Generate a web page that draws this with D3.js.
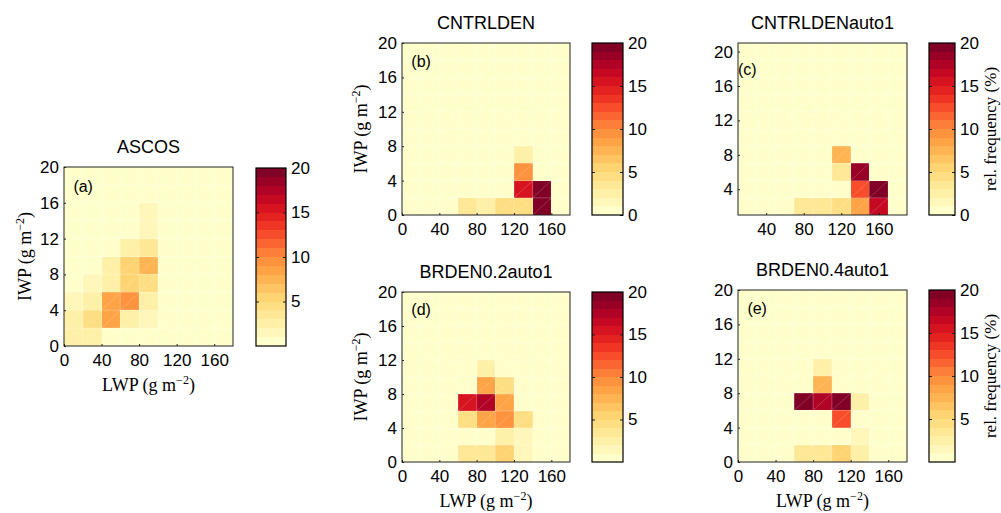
<!DOCTYPE html>
<html>
<head>
<meta charset="utf-8">
<script src="https://cdn.jsdelivr.net/npm/d3@7"></script>
<style>
  body { margin: 0; background: #fff; }
  svg { display: block; }
  .tick text { font-family: "Liberation Sans", Arial, sans-serif; font-size: 17px; fill: #000; }
  .tick line { stroke: #222; }
</style>
</head>
<body>
<div id="chart-area"></div>
<script>
// bin lower edges
const lwpBins = [0, 20, 40, 60, 80, 100, 120, 140, 160]   // g m-2
const iwpBins = [0, 2, 4, 6, 8, 10, 12, 14, 16, 18]       // g m-2

// rel. frequency (%) - rows are IWP bins (bottom to top), columns LWP bins
const ascos = [
  [2, 2, 0.5, 0.5, 0.5, 0.5, 0.5, 0.5, 0.5],
  [2, 4.5, 8.5, 2, 1, 0.5, 0.5, 0.5, 0.5],
  [1, 2, 8.5, 9, 2.5, 0.5, 0.5, 0.5, 0.5],
  [0.5, 1, 2.5, 5.5, 4.5, 0.5, 0.5, 0.5, 0.5],
  [0.5, 0.5, 2, 5, 7, 0.5, 0.5, 0.5, 0.5],
  [0.5, 0.5, 0.5, 2, 3, 0.5, 0.5, 0.5, 0.5],
  [0.5, 0.5, 0.5, 0.5, 1.5, 0.5, 0.5, 0.5, 0.5],
  [0.5, 0.5, 0.5, 0.5, 1.5, 0.5, 0.5, 0.5, 0.5],
  [0.5, 0.5, 0.5, 0.5, 0.5, 0.5, 0.5, 0.5, 0.5],
  [0.5, 0.5, 0.5, 0.5, 0.5, 0.5, 0.5, 0.5, 0.5]
]

const cntrlden = [
  [0, 0, 0, 3.5, 2.5, 4.5, 4.5, 20, 0],
  [0, 0, 0, 0, 0, 0, 15.5, 20, 0],
  [0, 0, 0, 0, 0, 0, 9, 0, 0],
  [0, 0, 0, 0, 0, 0, 2, 0, 0],
  [0, 0, 0, 0, 0, 0, 0, 0, 0],
  [0, 0, 0, 0, 0, 0, 0, 0, 0],
  [0, 0, 0, 0, 0, 0, 0, 0, 0],
  [0, 0, 0, 0, 0, 0, 0, 0, 0],
  [0, 0, 0, 0, 0, 0, 0, 0, 0],
  [0, 0, 0, 0, 0, 0, 0, 0, 0]
]

const cntrldenAuto1 = [
  [0, 0, 0, 3, 3, 4, 8.5, 16, 0],
  [0, 0, 0, 0, 0, 0, 12.5, 20, 0],
  [0, 0, 0, 0, 0, 3, 18, 0, 0],
  [0, 0, 0, 0, 0, 7.5, 0, 0, 0],
  [0, 0, 0, 0, 0, 0, 0, 0, 0],
  [0, 0, 0, 0, 0, 0, 0, 0, 0],
  [0, 0, 0, 0, 0, 0, 0, 0, 0],
  [0, 0, 0, 0, 0, 0, 0, 0, 0],
  [0, 0, 0, 0, 0, 0, 0, 0, 0],
  [0, 0, 0, 0, 0, 0, 0, 0, 0]
]

const brden02auto1 = [
  [0, 0, 0, 3.5, 3.5, 5, 1.5, 0, 0],
  [0, 0, 0, 0.8, 0.8, 2, 1.5, 0, 0],
  [0, 0, 0, 4, 8.5, 9.5, 4, 0, 0],
  [0, 0, 0, 15.5, 17, 8, 0, 0, 0],
  [0, 0, 0, 0, 8.5, 4.5, 0, 0, 0],
  [0, 0, 0, 0, 2.5, 0, 0, 0, 0],
  [0, 0, 0, 0, 0, 0, 0, 0, 0],
  [0, 0, 0, 0, 0, 0, 0, 0, 0],
  [0, 0, 0, 0, 0, 0, 0, 0, 0],
  [0, 0, 0, 0, 0, 0, 0, 0, 0]
]

const brden04auto1 = [
  [0, 0, 0, 3.5, 3, 5, 2.5, 0, 0],
  [0, 0, 0, 0, 0, 0, 1.5, 0, 0],
  [0, 0, 0, 0, 0, 12.5, 0, 0, 0],
  [0, 0, 0, 20, 17.5, 19.5, 2, 0, 0],
  [0, 0, 0, 0, 7.5, 0, 0, 0, 0],
  [0, 0, 0, 0, 2, 0, 0, 0, 0],
  [0, 0, 0, 0, 0, 0, 0, 0, 0],
  [0, 0, 0, 0, 0, 0, 0, 0, 0],
  [0, 0, 0, 0, 0, 0, 0, 0, 0],
  [0, 0, 0, 0, 0, 0, 0, 0, 0]
]

const xTicksFull = [0, 40, 80, 120, 160]
const yTicksFull = [0, 4, 8, 12, 16, 20]
const cbTicksFull = [0, 5, 10, 15, 20]
const cbTicksNoZero = [5, 10, 15, 20]

const N_LEVELS = 20
const color = d3.scaleQuantize()
  .domain([0, 20])
  .range(d3.quantize(d3.interpolateYlOrRd, N_LEVELS))

const SANS = '"Liberation Sans", Arial, sans-serif'
const SERIF = '"Liberation Serif", "Times New Roman", serif'

const svg = d3.select("#chart-area").append("svg")
  .attr("width", 1001)
  .attr("height", 513)

const panels = [
  { title: "ASCOS", tag: "(a)", data: ascos,
    box: [64, 233, 167, 346], cbar: [256, 286, 168, 346],
    xDom: [0, 180], yDom: [0, 20], shift: [0, 0],
    xTicks: xTicksFull, yTicks: yTicksFull, cbTicks: cbTicksNoZero,
    xLab: true, yLab: 31, cbLab: false },
  { title: "CNTRLDEN", tag: "(b)", data: cntrlden,
    box: [402, 570, 43, 215], cbar: [592, 623, 43, 215],
    xDom: [0, 180], yDom: [0, 20], shift: [0, 0],
    xTicks: xTicksFull, yTicks: yTicksFull, cbTicks: cbTicksFull,
    xLab: false, yLab: 367, cbLab: false },
  { title: "CNTRLDENauto1", tag: "(c)", data: cntrldenAuto1,
    box: [738, 907, 43, 215], cbar: [929, 955, 43, 215],
    xDom: [10, 190], yDom: [1, 21], shift: [10, 1],
    xTicks: [40, 80, 120, 160], yTicks: [4, 8, 12, 16, 20], cbTicks: cbTicksFull,
    xLab: false, yLab: null, cbLab: true },
  { title: "BRDEN0.2auto1", tag: "(d)", data: brden02auto1,
    box: [402, 570, 292, 462], cbar: [592, 623, 292, 462],
    xDom: [0, 180], yDom: [0, 20], shift: [0, 0],
    xTicks: xTicksFull, yTicks: yTicksFull, cbTicks: cbTicksNoZero,
    xLab: true, yLab: 367, cbLab: false },
  { title: "BRDEN0.4auto1", tag: "(e)", data: brden04auto1,
    box: [738, 907, 290, 462], cbar: [929, 955, 290, 462],
    xDom: [0, 180], yDom: [0, 20], shift: [0, 0],
    xTicks: xTicksFull, yTicks: yTicksFull, cbTicks: cbTicksNoZero,
    xLab: true, yLab: null, cbLab: true }
]

// "g m^-2" unit label
function unitLabel(sel, name) {
  sel.append("tspan").text(name + " (g m")
  sel.append("tspan").attr("dy", -7).attr("font-size", "12px").text("\u22122")
  sel.append("tspan").attr("dy", 7).text(")")
}

panels.forEach(p => {
  const [x0, x1, y0, y1] = p.box
  const x = d3.scaleLinear().domain(p.xDom).range([x0, x1])
  const y = d3.scaleLinear().domain(p.yDom).range([y1, y0])
  const g = svg.append("g")

  // cells
  const cells = []
  p.data.forEach((row, i) => row.forEach((v, j) => {
    cells.push({ lwp: lwpBins[j] + p.shift[0], iwp: iwpBins[i] + p.shift[1], v })
  }))

  g.selectAll("rect.cell").data(cells).enter().append("rect")
    .attr("class", "cell")
    .attr("x", d => x(d.lwp))
    .attr("y", d => y(d.iwp + 2))
    .attr("width", d => x(d.lwp + 20) - x(d.lwp))
    .attr("height", d => y(d.iwp) - y(d.iwp + 2))
    .attr("fill", d => color(d.v))
    .attr("shape-rendering", "crispEdges")

  // faint render seams (cell edges + diagonals)
  g.selectAll("line.diag").data(cells).enter().append("line")
    .attr("x1", d => x(d.lwp)).attr("y1", d => y(d.iwp))
    .attr("x2", d => x(d.lwp + 20)).attr("y2", d => y(d.iwp + 2))
    .attr("stroke", "#fff").attr("stroke-opacity", 0.3).attr("stroke-width", 0.6)
  g.selectAll("line.vseam").data(lwpBins.slice(1)).enter().append("line")
    .attr("x1", d => x(d + p.shift[0])).attr("x2", d => x(d + p.shift[0]))
    .attr("y1", y0).attr("y2", y1)
    .attr("stroke", "#fff").attr("stroke-opacity", 0.35).attr("stroke-width", 0.7)
  g.selectAll("line.hseam").data(iwpBins.slice(1)).enter().append("line")
    .attr("y1", d => y(d + p.shift[1])).attr("y2", d => y(d + p.shift[1]))
    .attr("x1", x0).attr("x2", x1)
    .attr("stroke", "#fff").attr("stroke-opacity", 0.35).attr("stroke-width", 0.7)

  // axes
  const xAxis = d3.axisBottom(x).tickValues(p.xTicks).tickSizeInner(-2).tickSizeOuter(0).tickPadding(8)
  const yAxis = d3.axisLeft(y).tickValues(p.yTicks).tickSizeInner(-2).tickSizeOuter(0).tickPadding(5)
  g.append("g").attr("transform", `translate(0, ${y1})`).call(xAxis)
    .call(a => a.select(".domain").remove())
  g.append("g").attr("transform", `translate(${x0}, 0)`).call(yAxis)
    .call(a => a.select(".domain").remove())

  g.append("rect")
    .attr("x", x0).attr("y", y0)
    .attr("width", x1 - x0).attr("height", y1 - y0)
    .attr("fill", "none").attr("stroke", "#222").attr("stroke-width", 1)

  // panel tag
  g.append("text")
    .attr("x", x(10)).attr("y", y(p.shift[1] ? 17.3 : 17.25))
    .attr("font-family", SANS).attr("font-size", "16px")
    .text(p.tag)

  // title
  g.append("text")
    .attr("x", (x0 + x1) / 2).attr("y", y0 - 14)
    .attr("text-anchor", "middle")
    .attr("font-family", SANS).attr("font-size", "18px")
    .text(p.title)

  if (p.xLab) {
    g.append("text")
      .attr("x", (x0 + x1) / 2).attr("y", y1 + 45)
      .attr("text-anchor", "middle")
      .attr("font-family", SERIF).attr("font-size", "18px")
      .call(unitLabel, "LWP")
  }
  if (p.yLab !== null) {
    g.append("text")
      .attr("transform", `translate(${p.yLab}, ${(y0 + y1) / 2}) rotate(-90)`)
      .attr("text-anchor", "middle")
      .attr("font-family", SERIF).attr("font-size", "18px")
      .call(unitLabel, "IWP")
  }

  // colorbar
  const [c0, c1, cy0, cy1] = p.cbar
  const cb = d3.scaleLinear().domain([0, 20]).range([cy1, cy0])
  const levels = d3.range(N_LEVELS).map(k => k * 20 / N_LEVELS)
  g.selectAll("rect.lev").data(levels).enter().append("rect")
    .attr("x", c0).attr("width", c1 - c0)
    .attr("y", d => cb(d + 20 / N_LEVELS))
    .attr("height", d => cb(d) - cb(d + 20 / N_LEVELS))
    .attr("fill", d => color(d + 0.01))
    .attr("shape-rendering", "crispEdges")

  const cbAxis = d3.axisRight(cb).tickValues(p.cbTicks).tickSizeInner(-3).tickSizeOuter(0).tickPadding(5)
  g.append("g").attr("transform", `translate(${c1}, 0)`).call(cbAxis)
    .call(a => a.select(".domain").remove())
  g.append("g").attr("transform", `translate(${c0}, 0)`)
    .call(d3.axisLeft(cb).tickValues(p.cbTicks.filter(t => t > 0 && t < 20)).tickSizeInner(-3).tickSizeOuter(0).tickFormat(""))
    .call(a => a.select(".domain").remove())

  g.append("rect")
    .attr("x", c0).attr("y", cy0)
    .attr("width", c1 - c0).attr("height", cy1 - cy0)
    .attr("fill", "none").attr("stroke", "#000").attr("stroke-width", 1.2)

  if (p.cbLab) {
    g.append("text")
      .attr("transform", `translate(996, ${(cy0 + cy1) / 2}) rotate(-90)`)
      .attr("text-anchor", "middle")
      .attr("font-family", SERIF).attr("font-size", "17px")
      .text("rel. frequency (%)")
  }
})
</script>
</body>
</html>
